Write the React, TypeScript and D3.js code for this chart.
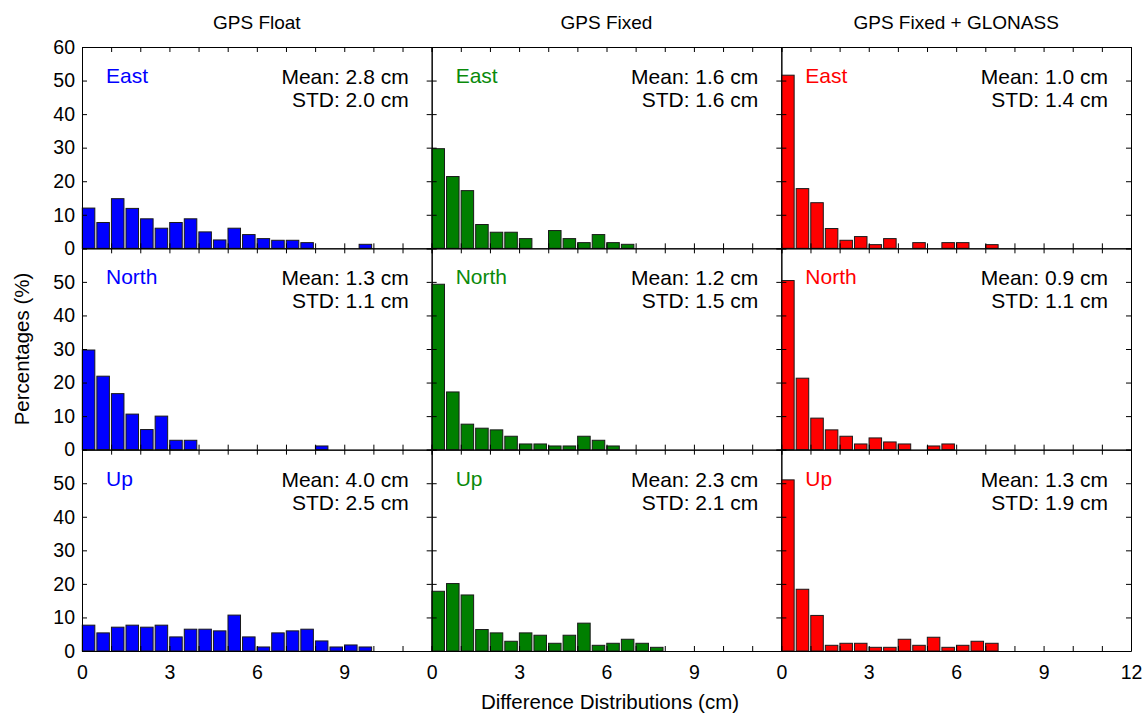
import React, { useRef, useEffect } from "react";
import * as d3 from "d3";

// column titles, colours and component names
const solutions = ["GPS Float", "GPS Fixed", "GPS Fixed + GLONASS"];
const barColors = ["#0000ff", "#007f00", "#ff0000"];
const components = ["East", "North", "Up"];

// percentages per 0.5 cm bin, starting at 0 cm
const floatEast = [12, 7.7, 14.8, 11.9, 8.8, 6.0, 7.7, 8.8, 4.9, 2.5, 6.0, 4.1, 2.9, 2.4, 2.4, 1.7, 0, 0, 0, 1.2];
const floatNorth = [29.7, 21.9, 16.7, 10.6, 6.0, 10.0, 2.8, 2.8, 0, 0, 0, 0, 0, 0, 0, 0, 1.1];
const floatUp = [7.7, 5.4, 7.1, 7.7, 7.1, 7.7, 4.2, 6.5, 6.5, 6.0, 10.7, 4.2, 1.2, 5.4, 6.0, 6.5, 3.0, 1.2, 1.8, 1.2];

const fixedEast = [29.7, 21.4, 17.2, 7.1, 4.8, 4.8, 2.9, 0, 5.3, 2.9, 1.7, 4.1, 1.7, 1.2];
const fixedNorth = [49.3, 17.2, 7.6, 6.4, 5.9, 4.0, 1.7, 1.7, 1.1, 1.1, 4.0, 2.8, 1.1];
const fixedUp = [17.8, 20.1, 16.7, 6.4, 5.4, 2.9, 5.4, 4.7, 2.3, 4.7, 8.3, 1.7, 2.3, 3.5, 2.3, 1.1];

const glonassEast = [51.6, 17.8, 13.6, 5.9, 2.4, 3.5, 1.1, 2.9, 0, 1.7, 0, 1.7, 1.7, 0, 1.1];
const glonassNorth = [50.4, 21.3, 9.4, 5.9, 4.0, 1.7, 3.5, 2.3, 1.7, 0, 1.1, 1.7];
const glonassUp = [51.0, 18.4, 10.6, 1.7, 2.3, 2.3, 1.1, 1.1, 3.5, 1.7, 4.1, 1.1, 1.7, 2.9, 2.3];

// statistics, [column][row]
const means = [
  [2.8, 1.3, 4.0],
  [1.6, 1.2, 2.3],
  [1.0, 0.9, 1.3],
];
const stds = [
  [2.0, 1.1, 2.5],
  [1.6, 1.5, 2.1],
  [1.4, 1.1, 1.9],
];

const histograms = [
  [floatEast, floatNorth, floatUp],
  [fixedEast, fixedNorth, fixedUp],
  [glonassEast, glonassNorth, glonassUp],
];

const BIN = 0.5;
const FONT = "'Liberation Sans', Arial, sans-serif";

const App = () => {
  const ref = useRef<SVGSVGElement>(null);

  useEffect(() => {
    draw();
  }, []);

  const draw = () => {
    const svg = d3.select(ref.current);
    svg.selectAll("*").remove();

    const width = 1147;
    const height = 713;
    const margin = { top: 47, right: 16, bottom: 62, left: 82 };
    const colW = (width - margin.left - margin.right) / 3;
    const rowH = (height - margin.top - margin.bottom) / 3;

    histograms.forEach((column, c) => {
      const px = margin.left + c * colW;

      // column title
      svg
        .append("text")
        .attr("x", px + colW / 2)
        .attr("y", 29)
        .attr("text-anchor", "middle")
        .attr("font-family", FONT)
        .attr("font-size", 19)
        .text(solutions[c]);

      column.forEach((values, r) => {
        const py = margin.top + r * rowH;
        const x = d3.scaleLinear().domain([0, 12]).range([px, px + colW]);
        const y = d3.scaleLinear().domain([0, 60]).range([py + rowH, py]);
        const g = svg.append("g");

        // bars
        values.forEach((v, i) => {
          if (v <= 0) return;
          const x0 = x(i * BIN + 0.01);
          g.append("rect")
            .attr("x", x0)
            .attr("y", y(v))
            .attr("width", x(i * BIN + 0.44) - x0)
            .attr("height", y(0) - y(v))
            .attr("fill", barColors[c])
            .attr("stroke", "#1a1a1a")
            .attr("stroke-width", 1);
        });

        const xTicks = d3.range(0, 13);
        const yTicks = d3.range(0, 61, 10);

        const styleAxis = (a: any) => {
          a.attr("font-family", FONT).attr("font-size", 19.5);
          a.selectAll("path").attr("stroke", "#000");
          a.selectAll("line").attr("stroke", "#000");
          a.selectAll("text").attr("fill", "#000");
        };

        g.append("g")
          .attr("transform", `translate(0,${py + rowH})`)
          .call(
            d3
              .axisBottom(x)
              .tickValues(xTicks)
              .tickSizeInner(-5)
              .tickSizeOuter(0)
              .tickPadding(14)
              .tickFormat((d: any) =>
                r === 2 && d % 3 === 0 && (d < 12 || c === 2) ? String(d) : ""
              )
          )
          .call(styleAxis);

        g.append("g")
          .attr("transform", `translate(0,${py})`)
          .call(d3.axisTop(x).tickValues(xTicks).tickSizeInner(-5).tickSizeOuter(0).tickFormat(() => ""))
          .call(styleAxis);

        g.append("g")
          .attr("transform", `translate(${px},0)`)
          .call(
            d3
              .axisLeft(y)
              .tickValues(yTicks)
              .tickSizeInner(-5)
              .tickSizeOuter(0)
              .tickPadding(7)
              .tickFormat((d: any) =>
                c === 0 && !(d === 60 && r > 0) ? String(d) : ""
              )
          )
          .call(styleAxis);

        g.append("g")
          .attr("transform", `translate(${px + colW},0)`)
          .call(d3.axisRight(y).tickValues(yTicks).tickSizeInner(-5).tickSizeOuter(0).tickFormat(() => ""))
          .call(styleAxis);

        // labels
        g.append("text")
          .attr("x", px + 24)
          .attr("y", py + 36)
          .attr("font-family", FONT)
          .attr("font-size", 21)
          .attr("fill", barColors[c] === "#007f00" ? "#0a8a0a" : barColors[c])
          .text(components[r]);

        g.append("text")
          .attr("x", px + colW - 23)
          .attr("y", py + 37)
          .attr("text-anchor", "end")
          .attr("font-family", FONT)
          .attr("font-size", 21)
          .text(`Mean: ${means[c][r].toFixed(1)} cm`);

        g.append("text")
          .attr("x", px + colW - 23)
          .attr("y", py + 60)
          .attr("text-anchor", "end")
          .attr("font-family", FONT)
          .attr("font-size", 21)
          .text(`STD: ${stds[c][r].toFixed(1)} cm`);
      });
    });

    svg
      .append("text")
      .attr("transform", `translate(29,${margin.top + (height - margin.top - margin.bottom) / 2}) rotate(-90)`)
      .attr("text-anchor", "middle")
      .attr("font-family", FONT)
      .attr("font-size", 20.5)
      .text("Percentages (%)");

    svg
      .append("text")
      .attr("x", 610)
      .attr("y", 709)
      .attr("text-anchor", "middle")
      .attr("font-family", FONT)
      .attr("font-size", 20.5)
      .text("Difference Distributions (cm)");
  };

  return (
    <svg
      ref={ref}
      width={1147}
      height={713}
      style={{ position: "absolute", left: 0, top: 0, background: "#fff" }}
    ></svg>
  );
};

export default App;
